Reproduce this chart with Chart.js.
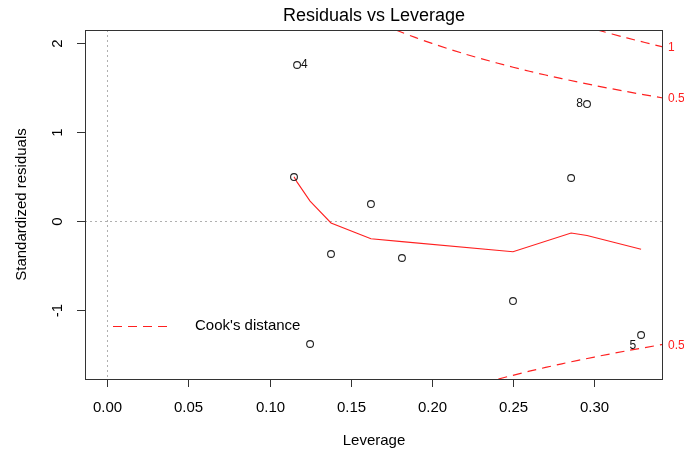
<!DOCTYPE html>
<html>
<head>
<meta charset="utf-8">
<script src="https://cdn.jsdelivr.net/npm/chart.js@4/dist/chart.umd.min.js"></script>
<style>
  html, body { margin: 0; padding: 0; background: #fff; }
  canvas { display: block; }
</style>
</head>
<body>
<canvas id="chart" width="684" height="454"></canvas>
<script>
// residuals vs leverage (R plot.lm style, which = 5)

const leverage = [0.1169, 0.2955, 0.1150, 0.1624, 0.2857, 0.1378, 0.1815, 0.2499, 0.1249, 0.3288];
const stdResid = [1.757, 1.318, 0.497, 0.193, 0.486, -0.369, -0.414, -0.898, -1.381, -1.280];
const obsLabels = ['4', '8', '', '', '', '', '', '', '', '5'];

// red smoother through the points
const smoothX = [0.1150, 0.1169, 0.1249, 0.1378, 0.1624, 0.1815, 0.2499, 0.2857, 0.2955, 0.3288];
const smoothY = [0.50, 0.44, 0.227, -0.02, -0.197, -0.23, -0.343, -0.133, -0.161, -0.316];

// Cook's distance contours
const cook05UpX = [0.1777, 0.19, 0.20, 0.22, 0.24, 0.26, 0.28, 0.30, 0.32, 0.3423];
const cook05UpY = [2.151, 2.065, 2.000, 1.883, 1.780, 1.687, 1.604, 1.528, 1.458, 1.386];
const cook05LoX = [0.2409, 0.26, 0.28, 0.30, 0.32, 0.3423];
const cook05LoY = [-1.775, -1.687, -1.604, -1.528, -1.458, -1.386];
const cook1X = [0.3018, 0.32, 0.3423];
const cook1Y = [2.151, 2.062, 1.960];
const cookLevels = ['0.5', '0.5', '1'];

const xTicks = [0, 0.05, 0.10, 0.15, 0.20, 0.25, 0.30];
const xTickLabels = ['0.00', '0.05', '0.10', '0.15', '0.20', '0.25', '0.30'];
const yTicks = [-1, 0, 1, 2];
const yTickLabels = ['-1', '0', '1', '2'];

const xRange = [-0.01374, 0.3423];
const yRange = [-1.775, 2.151];

const FONT = 'Helvetica, "Liberation Sans", Arial, sans-serif';
const RED = '#ff2020';

const zip = (xs, ys) => xs.map((x, i) => ({ x, y: ys[i] }));

const cookDash = {
  showLine: true, pointRadius: 0, borderColor: RED, borderWidth: 1.2,
  borderDash: [9, 6], tension: 0.3, fill: false
};

const rPlot = {
  id: 'rPlot',
  beforeDatasetsDraw(chart) {
    const { ctx, chartArea: a, scales: { x, y } } = chart;
    ctx.save();
    ctx.strokeStyle = '#b0b0b0';
    ctx.lineWidth = 1;
    ctx.setLineDash([2, 3]);
    const y0 = Math.round(y.getPixelForValue(0)) + 0.5;
    const x0 = Math.round(x.getPixelForValue(0)) + 0.5;
    ctx.beginPath();
    ctx.moveTo(a.left, y0); ctx.lineTo(a.right, y0);
    ctx.moveTo(x0, a.top); ctx.lineTo(x0, a.bottom);
    ctx.stroke();
    ctx.restore();
  },
  afterDraw(chart) {
    const { ctx, chartArea: a, scales: { x, y } } = chart;
    ctx.save();
    // box
    ctx.strokeStyle = '#333';
    ctx.lineWidth = 1;
    ctx.strokeRect(a.left + 0.5, a.top + 0.5, a.right - a.left - 1, a.bottom - a.top);

    // x axis ticks and labels
    ctx.fillStyle = '#000';
    ctx.font = '15px ' + FONT;
    ctx.textAlign = 'center';
    ctx.textBaseline = 'middle';
    xTicks.forEach((v, i) => {
      const px = Math.round(x.getPixelForValue(v)) + 0.5;
      ctx.beginPath();
      ctx.moveTo(px, a.bottom); ctx.lineTo(px, a.bottom + 8);
      ctx.stroke();
      ctx.fillText(xTickLabels[i], px, a.bottom + 29);
    });

    // y axis ticks and rotated labels
    yTicks.forEach((v, i) => {
      const py = Math.round(y.getPixelForValue(v)) + 0.5;
      ctx.beginPath();
      ctx.moveTo(a.left - 8, py); ctx.lineTo(a.left, py);
      ctx.stroke();
      ctx.save();
      ctx.translate(a.left - 27, py);
      ctx.rotate(-Math.PI / 2);
      ctx.fillText(yTickLabels[i], 0, 0);
      ctx.restore();
    });

    // titles
    const cx = (a.left + a.right) / 2;
    ctx.fillText('Leverage', cx, 441);
    ctx.save();
    ctx.translate(22, (a.top + a.bottom) / 2);
    ctx.rotate(-Math.PI / 2);
    ctx.fillText('Standardized residuals', 0, 0);
    ctx.restore();
    ctx.font = '18px ' + FONT;
    ctx.fillText('Residuals vs Leverage', cx, 16);

    // legend
    ctx.strokeStyle = RED;
    ctx.lineWidth = 1.2;
    ctx.setLineDash([9, 6]);
    ctx.beginPath();
    ctx.moveTo(113, 326.5); ctx.lineTo(167, 326.5);
    ctx.stroke();
    ctx.setLineDash([]);
    ctx.font = '15px ' + FONT;
    ctx.textAlign = 'left';
    ctx.fillText("Cook's distance", 195, 326);

    // contour level labels at the right edge
    ctx.font = '12px ' + FONT;
    ctx.fillStyle = RED;
    const ends = [cook05UpY, cook05LoY, cook1Y].map(arr => arr[arr.length - 1]);
    ends.forEach((v, i) => {
      ctx.fillText(cookLevels[i], a.right + 5, y.getPixelForValue(v) + 1);
    });

    // observation labels
    ctx.fillStyle = '#111';
    leverage.forEach((lv, i) => {
      const id = obsLabels[i];
      if (!id) return;
      const px = x.getPixelForValue(lv);
      const py = y.getPixelForValue(stdResid[i]);
      if (id === '4') {
        ctx.textAlign = 'left';
        ctx.fillText(id, px + 4, py);
      } else if (id === '8') {
        ctx.textAlign = 'right';
        ctx.fillText(id, px - 4, py);
      } else {
        ctx.textAlign = 'right';
        ctx.fillText(id, px - 5, py + 11);
      }
    });
    ctx.restore();
  }
};

new Chart(document.getElementById('chart'), {
  type: 'scatter',
  data: {
    datasets: [
      {
        data: zip(leverage, stdResid),
        pointRadius: 3.4, pointStyle: 'circle', pointBorderWidth: 1.1,
        pointBorderColor: '#222', pointBackgroundColor: 'rgba(0,0,0,0)',
        showLine: false
      },
      {
        data: zip(smoothX, smoothY),
        showLine: true, pointRadius: 0, borderColor: RED, borderWidth: 1.1, tension: 0
      },
      Object.assign({ data: zip(cook05UpX, cook05UpY) }, cookDash),
      Object.assign({ data: zip(cook05LoX, cook05LoY) }, cookDash),
      Object.assign({ data: zip(cook1X, cook1Y) }, cookDash)
    ]
  },
  options: {
    responsive: false,
    animation: false,
    events: [],
    layout: { padding: { left: 85, top: 30, right: 21, bottom: 75 } },
    plugins: { legend: { display: false }, tooltip: { enabled: false } },
    scales: {
      x: { type: 'linear', min: xRange[0], max: xRange[1], display: false },
      y: { type: 'linear', min: yRange[0], max: yRange[1], display: false }
    }
  },
  plugins: [rPlot]
});
</script>
</body>
</html>
